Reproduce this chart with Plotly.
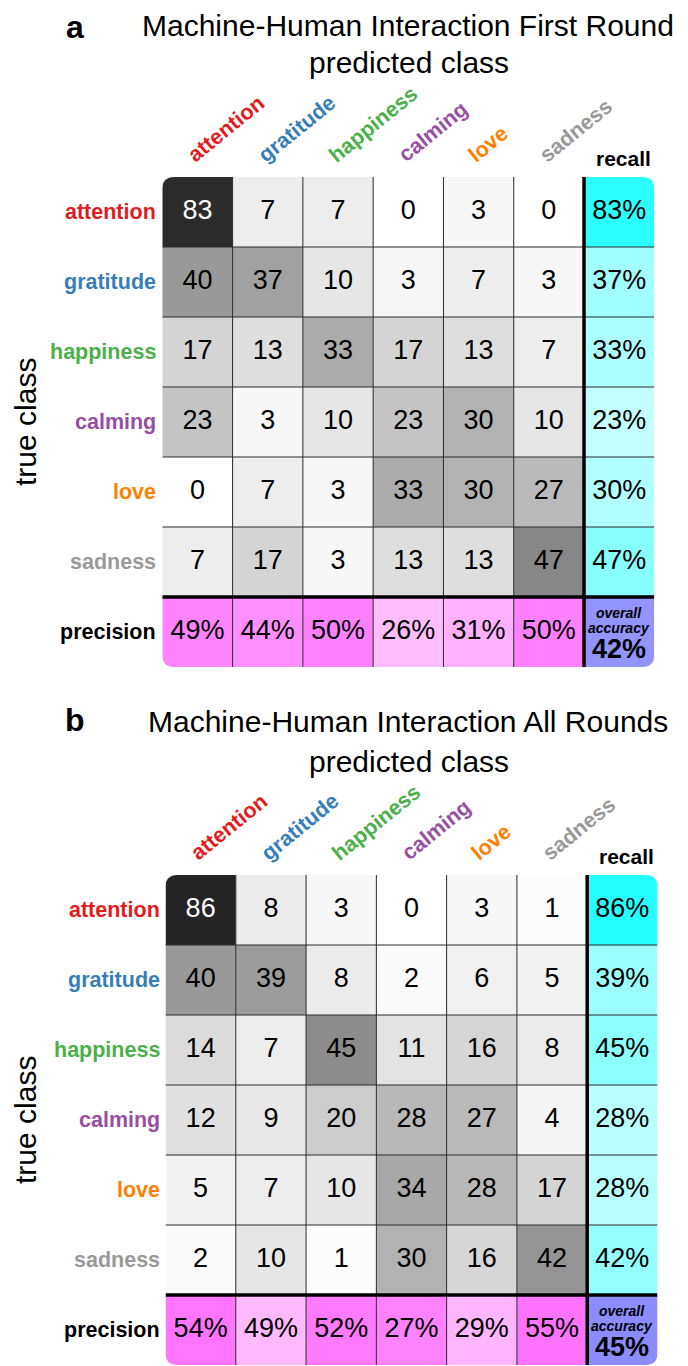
import plotly.graph_objects as go

# ---------------- data ----------------
classes = ["attention", "gratitude", "happiness", "calming", "love", "sadness"]
class_colors = ["#e41a1c", "#377eb8", "#4daf4a", "#984ea3", "#ff7f00", "#999999"]

titles = ["Machine-Human Interaction First Round", "Machine-Human Interaction All Rounds"]
panel_letters = ["a", "b"]

cm_a = [
    [83, 7, 7, 0, 3, 0],
    [40, 37, 10, 3, 7, 3],
    [17, 13, 33, 17, 13, 7],
    [23, 3, 10, 23, 30, 10],
    [0, 7, 3, 33, 30, 27],
    [7, 17, 3, 13, 13, 47],
]
recall_a = [83, 37, 33, 23, 30, 47]
precision_a = [49, 44, 50, 26, 31, 50]
accuracy_a = 42

cm_b = [
    [86, 8, 3, 0, 3, 1],
    [40, 39, 8, 2, 6, 5],
    [14, 7, 45, 11, 16, 8],
    [12, 9, 20, 28, 27, 4],
    [5, 7, 10, 34, 28, 17],
    [2, 10, 1, 30, 16, 42],
]
recall_b = [86, 39, 45, 28, 28, 42]
precision_b = [54, 49, 52, 27, 29, 55]
accuracy_b = 45

# shading values used for the precision row, as drawn in the original figure
precision_shade_a = precision_a
precision_shade_b = [54, 27, 52, 49, 29, 55]

# ---------------- layout / style ----------------
# the page body has an 8px margin, so the figure is 680x1358 and all
# positions below (given in page pixels) are shifted by OFF
OFF = 8
W, H = 680, 1358
FONT = "Liberation Sans, Arial, Helvetica, sans-serif"
panels = [
    dict(cm=cm_a, recall=recall_a, precision=precision_a, pshade=precision_shade_a,
         acc=accuracy_a, left=162.3, right=654.3, top=177, bottom=667,
         title_y=26, sub_y=63, letter_y=27, xa="x", ya="y"),
    dict(cm=cm_b, recall=recall_b, precision=precision_b, pshade=precision_shade_b,
         acc=accuracy_b, left=165.5, right=657.5, top=875, bottom=1365,
         title_y=721, sub_y=761, letter_y=720, xa="x2", ya="y2"),
]


def level(v):
    return int(round(max(0, min(255, 255 - 2.55 * v))))


def gray(v):
    l = level(v)
    return f"rgb({l},{l},{l})"


def cyan(v):
    return f"rgb({level(v)},255,255)"


def magenta(v):
    return f"rgb(255,{level(v)},255)"


def lavender(v):
    l = level(v)
    return f"rgb({l},{l},255)"


def rounded_path(x0, x1, y0, y1, rx, ry, tl, tr, br, bl):
    # y0 = top (smaller data value on reversed axis), y1 = bottom
    a = (rx if tl else 0, ry if tl else 0)
    b = (rx if tr else 0, ry if tr else 0)
    c = (rx if br else 0, ry if br else 0)
    d = (rx if bl else 0, ry if bl else 0)
    p = f"M {x0 + a[0]},{y0} L {x1 - b[0]},{y0} Q {x1},{y0} {x1},{y0 + b[1]} "
    p += f"L {x1},{y1 - c[1]} Q {x1},{y1} {x1 - c[0]},{y1} "
    p += f"L {x0 + d[0]},{y1} Q {x0},{y1} {x0},{y1 - d[1]} "
    p += f"L {x0},{y0 + a[1]} Q {x0},{y0} {x0 + a[0]},{y0} Z"
    return p


def px(x):
    return (x - OFF) / W


def py(y):
    return 1 - (y - OFF) / H


fig = go.Figure()
shapes = []
annotations = []
layout_axes = {}

n = len(classes)
for k, P in enumerate(panels):
    xa, ya = P["xa"], P["ya"]
    colw = (P["right"] - P["left"]) / (n + 1)
    rowh = (P["bottom"] - P["top"]) / (n + 1)
    rx, ry = 12 / colw, 12 / rowh

    # cell fills
    for r in range(n + 1):
        for c in range(n + 1):
            if r < n and c < n:
                fill = gray(P["cm"][r][c])
            elif r < n and c == n:
                fill = cyan(P["recall"][r])
            elif r == n and c < n:
                fill = magenta(P["pshade"][c])
            else:
                fill = lavender(P["acc"])
            tl = (r == 0 and c == 0)
            tr = (r == 0 and c == n)
            bl = (r == n and c == 0)
            br = (r == n and c == n)
            shapes.append(dict(
                type="path", xref=xa, yref=ya, layer="below",
                path=rounded_path(c - 0.5, c + 0.5, r - 0.5, r + 0.5, rx, ry, tl, tr, br, bl),
                fillcolor=fill, line=dict(width=0)))

    # thin grid lines
    for j in range(n - 1):
        shapes.append(dict(type="line", xref=xa, yref=ya, layer="below",
                           x0=j + 0.5, x1=j + 0.5, y0=-0.5, y1=n + 0.5,
                           line=dict(color="#2a2a2a", width=1)))
        shapes.append(dict(type="line", xref=xa, yref=ya, layer="below",
                           x0=-0.5, x1=n + 0.5, y0=j + 0.5, y1=j + 0.5,
                           line=dict(color="#2a2a2a", width=1)))
    # thick separators
    shapes.append(dict(type="line", xref=xa, yref=ya, layer="below",
                       x0=n - 0.5, x1=n - 0.5, y0=-0.5, y1=n + 0.5,
                       line=dict(color="black", width=3.5)))
    shapes.append(dict(type="line", xref=xa, yref=ya, layer="below",
                       x0=-0.5, x1=n + 0.5, y0=n - 0.5, y1=n - 0.5,
                       line=dict(color="black", width=3.5)))

    # cell texts
    xs, ys, ts, cs = [], [], [], []
    for r in range(n):
        for c in range(n):
            v = P["cm"][r][c]
            xs.append(c); ys.append(r); ts.append(str(v))
            cs.append("white" if v > 60 else "black")
        xs.append(n); ys.append(r); ts.append(f"{P['recall'][r]}%"); cs.append("black")
    for c in range(n):
        xs.append(c); ys.append(n); ts.append(f"{P['precision'][c]}%"); cs.append("black")
    fig.add_trace(go.Scatter(
        x=xs, y=ys, text=ts, mode="text", xaxis=xa, yaxis=ya,
        textfont=dict(size=27, color=cs, family=FONT),
        hoverinfo="skip", showlegend=False, cliponaxis=False))

    # overall accuracy
    for txt, sh, sz in [("<b><i>overall</i></b>", 19.5, 14),
                        ("<b><i>accuracy</i></b>", 4.5, 14),
                        (f"<b>{P['acc']}%</b>", -17, 27)]:
        annotations.append(dict(xref=xa, yref=ya, x=n, y=n, text=txt, showarrow=False,
                                yshift=sh, xanchor="center", yanchor="middle",
                                font=dict(size=sz, color="black", family=FONT)))

    # row labels
    for r, (cl, col) in enumerate(zip(classes, class_colors)):
        annotations.append(dict(xref=xa, yref=ya, x=-0.5, y=r, text=f"<b>{cl}</b>",
                                showarrow=False, xanchor="right", yanchor="middle",
                                xshift=-4, font=dict(size=21.5, color=col, family=FONT)))
    annotations.append(dict(xref=xa, yref=ya, x=-0.5, y=n, text="<b>precision</b>",
                            showarrow=False, xanchor="right", yanchor="middle",
                            xshift=-4, font=dict(size=21.5, color="black", family=FONT)))

    # column labels
    for c, (cl, col) in enumerate(zip(classes, class_colors)):
        annotations.append(dict(xref=xa, yref=ya, x=c, y=-0.5, text=f"<b>{cl}</b>",
                                showarrow=False, xanchor="left", yanchor="bottom",
                                xshift=-17, yshift=7, textangle=-39,
                                font=dict(size=21.5, color=col, family=FONT)))
    annotations.append(dict(xref=xa, yref=ya, x=n, y=-0.5, text="<b>recall</b>",
                            showarrow=False, xanchor="center", yanchor="bottom",
                            xshift=4, yshift=5, font=dict(size=21, color="black", family=FONT)))

    # titles
    annotations.append(dict(xref="paper", yref="paper", x=px(75), y=py(P["letter_y"]),
                            text=f"<b>{panel_letters[k]}</b>", showarrow=False,
                            xanchor="center", yanchor="middle",
                            font=dict(size=32, color="black", family=FONT)))
    annotations.append(dict(xref="paper", yref="paper", x=px(408), y=py(P["title_y"]),
                            text=titles[k], showarrow=False, xanchor="center", yanchor="middle",
                            font=dict(size=30, color="black", family=FONT)))
    annotations.append(dict(xref="paper", yref="paper", x=px(409), y=py(P["sub_y"]),
                            text="predicted class", showarrow=False, xanchor="center",
                            yanchor="middle", font=dict(size=30, color="black", family=FONT)))
    annotations.append(dict(xref="paper", yref="paper", x=px(25),
                            y=py((P["top"] + P["bottom"]) / 2),
                            text="true class", showarrow=False, xanchor="center",
                            yanchor="middle", textangle=-90,
                            font=dict(size=30, color="black", family=FONT)))

    xname = "xaxis" if xa == "x" else "xaxis2"
    yname = "yaxis" if ya == "y" else "yaxis2"
    layout_axes[xname] = dict(domain=[px(P["left"]), px(P["right"])], range=[-0.5, n + 0.5],
                              visible=False, fixedrange=True, anchor=ya)
    layout_axes[yname] = dict(domain=[py(P["bottom"]), py(P["top"])], range=[n + 0.5, -0.5],
                              visible=False, fixedrange=True, anchor=xa)

fig.update_layout(
    width=W, height=H, margin=dict(l=0, r=0, t=0, b=0),
    paper_bgcolor="white", plot_bgcolor="white",
    shapes=shapes, annotations=annotations, showlegend=False,
    font=dict(family=FONT),
    **layout_axes,
)

fig.write_html("out.html")
